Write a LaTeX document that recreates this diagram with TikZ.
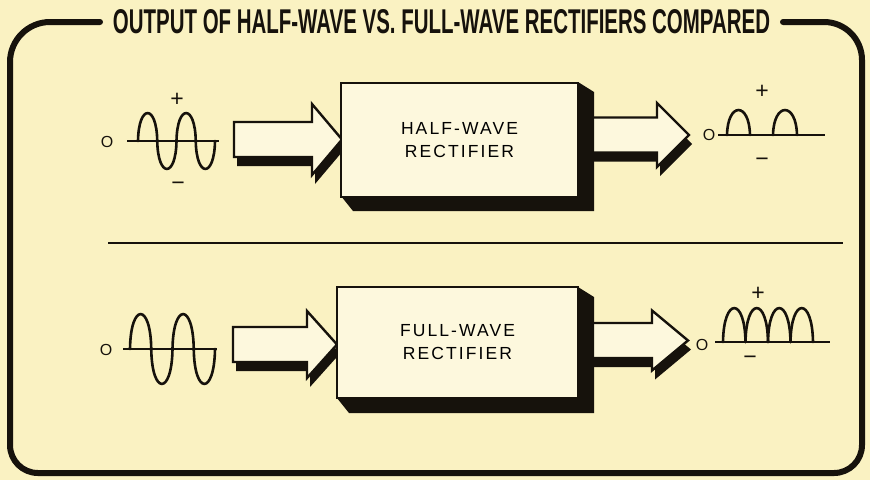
\documentclass[tikz,border=0pt]{standalone}
\usepackage{fontspec}
\usepackage{graphicx}
\setmainfont{Liberation Sans}
\newfontfamily\boxfont[LetterSpace=12]{Liberation Sans}
\definecolor{bg}{RGB}{250,242,194}
\definecolor{boxfill}{RGB}{253,248,221}
\definecolor{ink}{RGB}{22,18,12}
\newcommand\blkarrow[6]{%
  \begin{scope}[shift={(3,9)}]
    \fill[ink] (#1,{#4-#5}) -- (#2,{#4-#5}) -- (#2,{#4-#6}) -- (#3,#4) -- (#2,{#4+#6}) -- (#2,{#4+#5}) -- (#1,{#4+#5}) -- cycle;
  \end{scope}
  \draw[arrowbody] (#1,{#4-#5}) -- (#2,{#4-#5}) -- (#2,{#4-#6}) -- (#3,#4) -- (#2,{#4+#6}) -- (#2,{#4+#5}) -- (#1,{#4+#5}) -- cycle;
}
% lobe: x0, width, axis y, height (positive = up)
\newcommand\lobe[4]{%
  \draw[wave] (#1,#3) .. controls ({#1+0.03*#2},{#3-1.33*#4}) and ({#1+0.97*#2},{#3-1.33*#4}) .. ({#1+#2},#3);}
\begin{document}
\begin{tikzpicture}[x=1pt,y=-1pt,
  frame/.style={draw=ink,line width=6pt,line cap=round,line join=round},
  arrowbody/.style={draw=ink,fill=boxfill,line width=2.4pt,line join=miter},
  rbox/.style={draw=ink,fill=boxfill,line width=2.5pt,align=center,inner sep=0pt,
    font=\boxfont\fontsize{17.5}{23}\selectfont},
  wave/.style={draw=ink,line width=2.6pt,line cap=round},
  axis/.style={draw=ink,line width=2pt},
  lbl/.style={text=ink,inner sep=0pt,font=\fontsize{16}{16}\selectfont},
  sgn/.style={text=ink,inner sep=0pt,font=\fontsize{23}{23}\selectfont}]
\fill[bg] (0,0) rectangle (870,480);
\useasboundingbox (0,0) rectangle (870,480);

% frame
\draw[frame] (100,22) -- (50,22) .. controls (28,22) and (10,40) .. (10,62) -- (10,445)
  .. controls (10,460.5) and (22.5,473) .. (38,473) -- (834,473)
  .. controls (849.5,473) and (862,460.5) .. (862,445) -- (862,60)
  .. controls (862,39) and (845,22) .. (824,22) -- (783,22);
\node[text=ink,inner sep=0pt] (title) at (441.5,22)
  {\resizebox{657pt}{24pt}{\bfseries OUTPUT OF HALF-WAVE VS. FULL-WAVE RECTIFIERS COMPARED}};

% divider
\draw[ink,line width=2pt] (108,243) -- (843,243);

% ---------- top row ----------
\blkarrow{234}{312}{342}{139.5}{17.5}{35.5}
\blkarrow{585}{657}{689}{135}{17.5}{32}
\fill[ink] (578,82) -- (594,92) -- (594,211) -- (353,211) -- (341,196) -- cycle;
\node[rbox,minimum width=237pt,minimum height=114pt] (hw) at (459.5,140) {HALF-WAVE\\RECTIFIER};

% input wave top
\draw[axis] (127,141) -- (219,141);
\lobe{138}{19.25}{141}{28}
\lobe{157.25}{19.25}{141}{-28}
\lobe{176.5}{19.25}{141}{28}
\lobe{195.75}{19.25}{141}{-28}
\node[lbl] (o1) at (107,142) {O};
\node[sgn] (p1) at (177,100) {+};
\node[sgn] (m1) at (178,186) {−};

% output wave top (half-wave)
\draw[axis] (718,135) -- (825,135);
\lobe{727}{23}{135}{25}
\lobe{773}{24}{135}{25}
\node[lbl] (o2) at (709,135) {O};
\node[sgn] (p2) at (762,92) {+};
\node[sgn] (m2) at (762,162) {−};

% ---------- bottom row ----------
\blkarrow{233}{307}{337}{344.5}{17.5}{33.5}
\blkarrow{585}{652}{688}{340.5}{17.5}{30}
\fill[ink] (578,287) -- (594,297) -- (594,413) -- (349,413) -- (337,398) -- cycle;
\node[rbox,minimum width=241pt,minimum height=111pt] (fw) at (457.5,342.5) {FULL-WAVE\\RECTIFIER};

% input wave bottom
\draw[axis] (123,349) -- (217,349);
\lobe{130}{21.25}{349}{35}
\lobe{151.25}{21.25}{349}{-35}
\lobe{172.5}{21.25}{349}{35}
\lobe{193.75}{21.25}{349}{-35}
\node[lbl] (o3) at (106,350) {O};

% output wave bottom (full-wave)
\draw[axis] (715,342) -- (830,342);
\lobe{723}{22.5}{342}{34}
\lobe{745.5}{22.5}{342}{34}
\lobe{768}{22.5}{342}{34}
\lobe{790.5}{22.5}{342}{34}
\node[lbl] (o4) at (702,345) {O};
\node[sgn] (p4) at (758,294) {+};
\node[sgn] (m4) at (750,360) {−};
\end{tikzpicture}
\end{document}
